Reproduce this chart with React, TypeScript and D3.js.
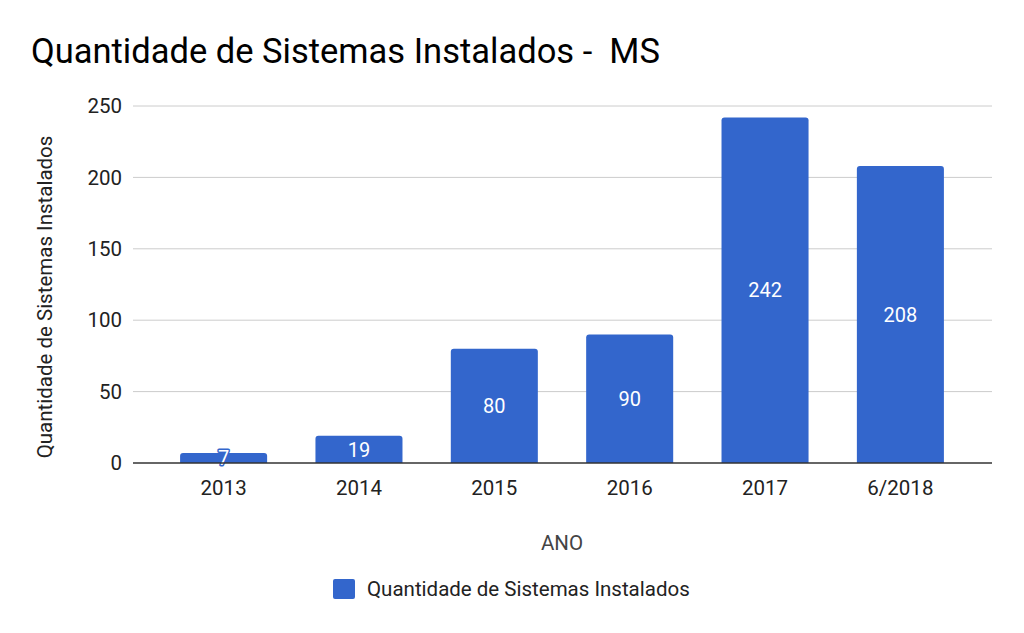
import React from "react";
import * as d3 from "d3";

const categories = ["2013", "2014", "2015", "2016", "2017", "6/2018"];
const values = [7, 19, 80, 90, 242, 208];
const yTicks = [0, 50, 100, 150, 200, 250];
const title = "Quantidade de Sistemas Instalados -  MS";
const seriesName = "Quantidade de Sistemas Instalados";
const xTitle = "ANO";
const yTitle = "Quantidade de Sistemas Instalados";

const W = 1024;
const H = 633;
const FONT = "Roboto, 'Noto Sans', sans-serif";
const BLUE = "#3366cc";

export default function App() {
  const x = d3.scaleBand<string>().domain(categories).range([156, 968]).paddingInner(0.357).paddingOuter(0.178);
  const y = d3.scaleLinear().domain([0, 250]).range([463, 106]);
  const gridX0 = 133;
  const gridX1 = 992;
  return (
    <svg width={W} height={H} style={{ position: "absolute", left: 0, top: 0, background: "#fff" }} fontFamily={FONT}>
      <rect width={W} height={H} fill="#fff" />
      <text x={31} y={63} fontSize={34.5} fill="#000" style={{ whiteSpace: "pre" }}>{title}</text>
      {yTicks.map((t) => (
        <g key={t}>
          {t !== 0 && <line x1={gridX0} x2={gridX1} y1={y(t)} y2={y(t)} stroke="#cccccc" strokeWidth={1} />}
          <text x={122} y={y(t)} dy="0.35em" textAnchor="end" fontSize={20.5} fill="#222">{t}</text>
        </g>
      ))}
      {categories.map((c, i) => {
        const v = values[i];
        const bx = x(c)!;
        const bw = x.bandwidth();
        const top = y(v);
        const h = y(0) - top;
        const r = Math.min(3, h / 2);
        const path = `M${bx},${y(0)} L${bx},${top + r} Q${bx},${top} ${bx + r},${top} L${bx + bw - r},${top} Q${bx + bw},${top} ${bx + bw},${top + r} L${bx + bw},${y(0)} Z`;
        return (
          <g key={c}>
            <path d={path} fill={BLUE} />
            <text x={bx + bw / 2} y={top + h / 2} dy="0.36em" textAnchor="middle" fontSize={20} fill="#fff"
              stroke={BLUE} strokeWidth={3} paintOrder="stroke" strokeLinejoin="round">{v}</text>
            <text x={bx + bw / 2} y={488} dy="0.35em" textAnchor="middle" fontSize={20.5} fill="#222">{c}</text>
          </g>
        );
      })}
      <line x1={gridX0} x2={gridX1} y1={y(0)} y2={y(0)} stroke="#333" strokeWidth={1.5} />
      <text x={562} y={543} dy="0.35em" textAnchor="middle" fontSize={20.5} fill="#444">{xTitle}</text>
      <text transform={`translate(45,297) rotate(-90)`} textAnchor="middle" dy="0.35em" fontSize={20.5} fill="#222">{yTitle}</text>
      <rect x={333} y={579} width={22} height={20} rx={2} fill={BLUE} />
      <text x={367} y={589} dy="0.35em" fontSize={20.5} fill="#222">{seriesName}</text>
    </svg>
  );
}
